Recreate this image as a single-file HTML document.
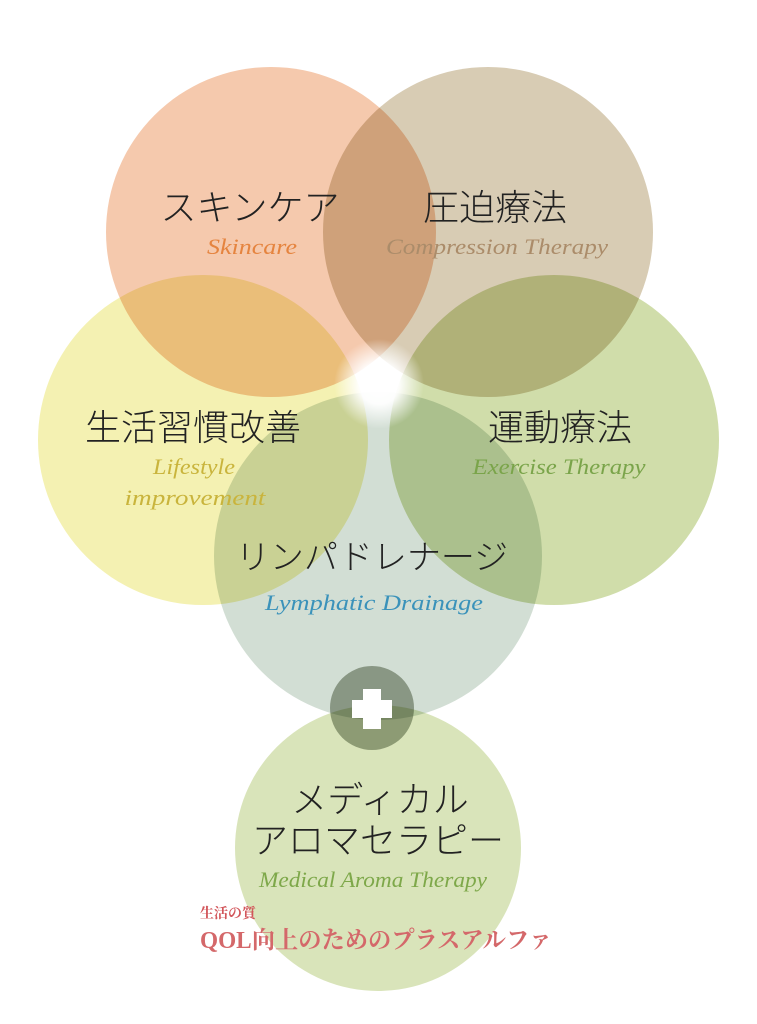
<!DOCTYPE html>
<html><head><meta charset="utf-8"><style>
html,body{margin:0;padding:0;background:#fff;}
svg{display:block}
.jp{font-family:"Liberation Sans","Noto Sans CJK JP",sans-serif;font-weight:300;fill:#222;}
.en{font-family:"Liberation Serif",serif;font-style:italic;}
</style></head><body>
<svg width="757" height="1024" viewBox="0 0 757 1024" xmlns="http://www.w3.org/2000/svg">
<defs>
<radialGradient id="glow" cx="0.5" cy="0.5" r="0.5">
<stop offset="0" stop-color="#fff" stop-opacity="1"/>
<stop offset="0.45" stop-color="#fff" stop-opacity="0.95"/>
<stop offset="1" stop-color="#fff" stop-opacity="0"/>
</radialGradient>
</defs>
<g style="isolation:isolate">
<circle cx="271" cy="232" r="165" fill="#f5c9ad" style="mix-blend-mode:multiply"/>
<circle cx="488" cy="232" r="165" fill="#d8ccb4" style="mix-blend-mode:multiply"/>
<circle cx="203" cy="440" r="165" fill="#f4f1b2" style="mix-blend-mode:multiply"/>
<circle cx="554" cy="440" r="165" fill="#d0ddaa" style="mix-blend-mode:multiply"/>
<circle cx="378" cy="556" r="164" fill="#d2ded4" style="mix-blend-mode:multiply"/>
<circle cx="378" cy="848" r="143" fill="#d9e4ba" style="mix-blend-mode:multiply"/>
<circle cx="372" cy="708" r="42" fill="#a6ad9f" style="mix-blend-mode:multiply"/>
</g>
<circle cx="379" cy="384" r="45" fill="url(#glow)"/>
<rect x="363" y="689" width="18" height="40" fill="#fff"/>
<rect x="352" y="700" width="40" height="18" fill="#fff"/>

<text class="jp" x="250" y="220" font-size="36" text-anchor="middle">スキンケア</text>
<text class="en" x="252" y="254" font-size="22" fill="#e5843f" text-anchor="middle" textLength="90" lengthAdjust="spacingAndGlyphs">Skincare</text>
<text class="jp" x="495" y="220" font-size="36" text-anchor="middle">圧迫療法</text>
<text class="en" x="497" y="254" font-size="22" fill="#ab8c6a" text-anchor="middle" textLength="222" lengthAdjust="spacingAndGlyphs">Compression Therapy</text>
<text class="jp" x="193" y="440" font-size="36" text-anchor="middle">生活習慣改善</text>
<text class="en" x="194" y="474" font-size="22" fill="#c9b43c" text-anchor="middle" textLength="82" lengthAdjust="spacingAndGlyphs">Lifestyle</text>
<text class="en" x="195" y="505" font-size="22" fill="#c9b43c" text-anchor="middle" textLength="141" lengthAdjust="spacingAndGlyphs">improvement</text>
<text class="jp" x="560" y="440" font-size="36" text-anchor="middle">運動療法</text>
<text class="en" x="559" y="474" font-size="22" fill="#7aa44a" text-anchor="middle" textLength="173" lengthAdjust="spacingAndGlyphs">Exercise Therapy</text>
<text class="jp" x="372" y="569" font-size="34" text-anchor="middle">リンパドレナージ</text>
<text class="en" x="374" y="610" font-size="22" fill="#3a92ba" text-anchor="middle" textLength="218" lengthAdjust="spacingAndGlyphs">Lymphatic Drainage</text>
<text class="jp" x="380" y="812" font-size="36" text-anchor="middle">メディカル</text>
<text class="jp" x="378" y="853" font-size="36" text-anchor="middle">アロマセラピー</text>
<text class="en" x="373" y="887" font-size="22" fill="#7ea84a" text-anchor="middle" textLength="228" lengthAdjust="spacingAndGlyphs">Medical Aroma Therapy</text>
<text x="200" y="918" font-size="14" fill="#d2555a" font-family="Liberation Serif,'Noto Serif CJK SC',serif" font-weight="bold">生活の質</text>
<text x="200" y="948" font-size="24" fill="#d4686a" font-weight="bold" font-family="Liberation Serif,'Noto Serif CJK SC',serif" textLength="352" lengthAdjust="spacingAndGlyphs">QOL向上のためのプラスアルファ</text>
</svg>
</body></html>
